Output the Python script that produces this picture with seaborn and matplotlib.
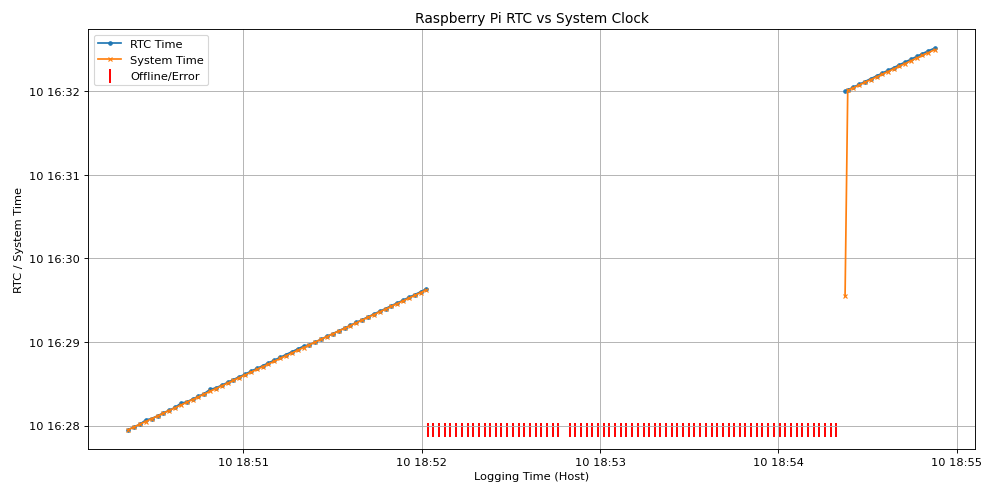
import pandas as pd
import seaborn as sns
import matplotlib.pyplot as plt
import matplotlib.dates as mdates

# host logging time, seconds after 18:50:00
host_on1 = [21.2, 23.2, 25.2, 27.1, 29.1, 31.1, 33.0, 35.0, 37.0, 38.9, 40.9, 42.9, 44.8,
            46.8, 48.8, 50.7, 52.7, 54.7, 56.6, 58.6, 60.6, 62.5, 64.5, 66.5, 68.4, 70.4,
            72.4, 74.3, 76.3, 78.3, 80.2, 82.2, 84.2, 86.1, 88.1, 90.1, 92.0, 94.0, 96.0,
            97.9, 99.9, 101.9, 103.8, 105.8, 107.8, 109.7, 111.7, 113.7, 115.6, 117.6,
            119.6, 121.3]
# RTC / system clock, seconds after 16:27:00
rtc_on1 = [57, 59, 61, 64, 65, 67, 69, 71, 73, 76, 77, 79, 81, 83, 86, 87, 89, 91, 93, 95,
           97, 99, 101, 103, 105, 107, 109, 111, 113, 115, 117, 118, 120, 122, 124, 126,
           128, 130, 132, 134, 136, 138, 140, 142, 144, 146, 148, 150, 152, 154, 156, 158]
sys_on1 = [57.0, 59.0, 61.0, 62.9, 64.9, 66.9, 68.8, 70.8, 72.8, 74.7, 76.7, 78.7, 80.6,
           82.6, 84.6, 86.5, 88.5, 90.5, 92.4, 94.4, 96.4, 98.3, 100.3, 102.3, 104.2, 106.2,
           108.2, 110.1, 112.1, 114.1, 116.0, 118.0, 120.0, 121.9, 123.9, 125.9, 127.8,
           129.8, 131.8, 133.7, 135.7, 137.7, 139.6, 141.6, 143.6, 145.5, 147.5, 149.5,
           151.4, 153.4, 155.4, 157.3]

host_on2 = [262.4, 263.3, 265.2, 267.2, 269.1, 271.0, 273.0, 274.9, 276.8, 278.8, 280.7,
            282.6, 284.6, 286.5, 288.4, 290.4, 292.6]
rtc_on2 = [300, 301, 303, 305, 307, 309, 311, 313, 315, 317, 319, 321, 323, 325, 327, 329, 331]
sys_on2 = [152.9, 300.6, 302.5, 304.5, 306.4, 308.3, 310.3, 312.2, 314.1, 316.1, 318.0,
           319.9, 321.9, 323.8, 325.7, 327.7, 329.9]

host_off = [122.0, 123.9, 125.8, 127.7, 129.6, 131.6, 133.5, 135.4, 137.3, 139.2, 141.1,
            143.0, 144.9, 146.8, 148.7, 150.6, 152.6, 154.5, 156.4, 158.3, 160.2, 162.1,
            164.0, 165.9, 169.7, 171.6, 173.6, 175.5, 177.4, 179.3, 181.2, 183.1, 185.0,
            186.9, 188.8, 190.7, 192.6, 194.6, 196.5, 198.4, 200.3, 202.2, 204.1, 206.0,
            207.9, 209.8, 211.7, 213.6, 215.6, 217.5, 219.4, 221.3, 223.2, 225.1, 227.0,
            228.9, 230.8, 232.7, 234.6, 236.6, 238.5, 240.4, 242.3, 244.2, 246.1, 248.0,
            249.9, 251.8, 253.7, 255.6, 257.6, 259.5]

host_base = pd.Timestamp("2025-06-10 18:50:00")
rtc_base = pd.Timestamp("2025-06-10 16:27:00")


def to_host(v):
    return host_base + pd.to_timedelta(v, unit="s")


def to_rtc(v):
    return rtc_base + pd.to_timedelta(v, unit="s")


fig, ax = plt.subplots(figsize=(12, 6.04), dpi=82.25)

segments = [(host_on1, rtc_on1, sys_on1), (host_on2, rtc_on2, sys_on2)]
for i, (h, r, s) in enumerate(segments):
    seg = pd.DataFrame({"host": to_host(h), "rtc": to_rtc(r), "sys": to_rtc(s)})
    sns.lineplot(data=seg, x="host", y="rtc", ax=ax, color="tab:blue", marker=".",
                 markersize=6, markeredgecolor="tab:blue", markeredgewidth=1,
                 label="RTC Time" if i == 0 else None)
    sns.lineplot(data=seg, x="host", y="sys", ax=ax, color="tab:orange", marker="x",
                 markersize=3, markeredgecolor="tab:orange", markeredgewidth=1,
                 label="System Time" if i == 0 else None)

offline = pd.DataFrame({"host": to_host(host_off),
                        "rtc": [to_rtc(min(rtc_on1))] * len(host_off)})
sns.scatterplot(data=offline, x="host", y="rtc", ax=ax, color="red", marker="|",
                s=150, linewidth=1.7, label="Offline/Error")

ax.xaxis.set_major_locator(mdates.MinuteLocator())
ax.xaxis.set_major_formatter(mdates.DateFormatter("%d %H:%M"))
ax.yaxis.set_major_locator(mdates.MinuteLocator())
ax.yaxis.set_major_formatter(mdates.DateFormatter("%d %H:%M"))

ax.set_title("Raspberry Pi RTC vs System Clock")
ax.set_xlabel("Logging Time (Host)")
ax.set_ylabel("RTC / System Time")
ax.grid(True)
ax.legend(loc="upper left")
fig.subplots_adjust(left=0.089, right=0.988, top=0.94, bottom=0.095)
plt.savefig("out.png")
